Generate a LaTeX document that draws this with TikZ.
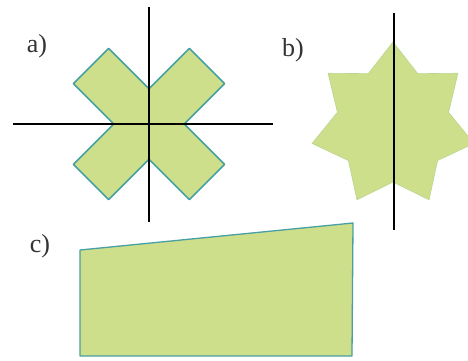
\documentclass[tikz,border=0pt]{standalone}
\usepackage{fontspec}
\setmainfont{Liberation Serif}
\usetikzlibrary{positioning}
\definecolor{leafgreen}{RGB}{206,223,140}
\definecolor{edgeteal}{RGB}{72,160,162}
\tikzset{
  axis/.style={black,line width=1.4pt},
  shapefill/.style={fill=leafgreen,draw=edgeteal,line width=1.6pt,line join=round},
  starfill/.style={fill=leafgreen,draw=leafgreen!85!edgeteal,line width=0.6pt},
  lab/.style={font=\fontsize{26}{30}\selectfont,text=black!80,inner sep=0pt},
}
\begin{document}
\begin{tikzpicture}[x=1pt,y=1pt]
  \clip (0,0) rectangle (468,360);
  \fill[white] (0,0) rectangle (468,360);

  % a) cross with two axes
  \begin{scope}[shift={(149,236)},rotate=45]
    \draw[shapefill] (82,25) -- (25,25) -- (25,82) -- (-25,82) -- (-25,25) -- (-82,25)
      -- (-82,-25) -- (-25,-25) -- (-25,-82) -- (25,-82) -- (25,-25) -- (82,-25) -- cycle;
  \end{scope}
  \coordinate (aN) at (149,353);
  \coordinate (aS) at (149,138);
  \coordinate (aW) at (13,236);
  \coordinate (aE) at (273,236);
  \draw[axis] (aN) -- (aS);
  \draw[axis] (aW) -- (aE);
  \node[lab] (la) at (37,314) {a)};

  % b) seven-pointed star
  \filldraw[starfill,shift={(393,235)}] (90:83)
    \foreach \k in {0,...,6} { -- ({90+\k*360/7}:83) -- ({90+(\k+0.5)*360/7}:57) } -- cycle;
  \coordinate (bN) at (394,347);
  \coordinate (bS) at (394,130);
  \draw[axis] (bN) -- (bS);
  \node[lab] (lb) at (293,310) {b)};

  % c) quadrilateral
  \draw[shapefill,line width=1.3pt] (80,110) -- (353,137) -- (352,4) -- (80,4) -- cycle;
  \node[lab] (lc) at (40,114) {c)};
\end{tikzpicture}
\end{document}
